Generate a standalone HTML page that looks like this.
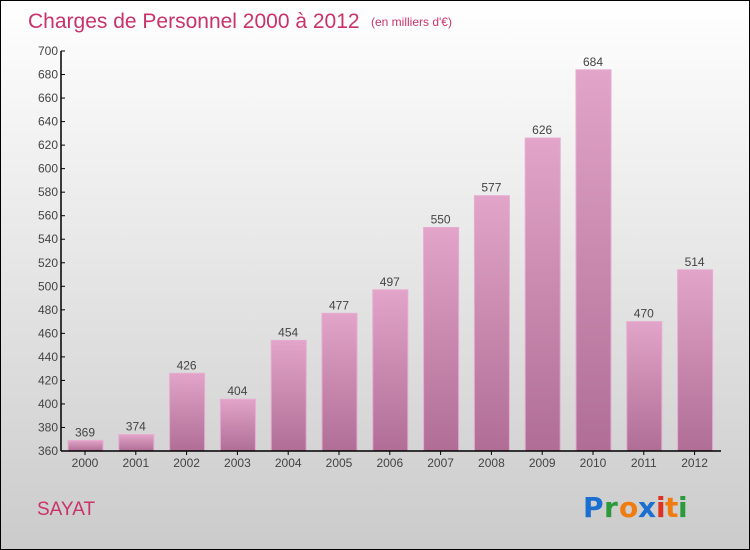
<!DOCTYPE html>
<html><head><meta charset="utf-8"><style>
body{margin:0}
#c{position:relative;width:748px;height:548px;border:1px solid #000;background:linear-gradient(#fff,#cbcbcb);font-family:"Liberation Sans",sans-serif;overflow:hidden}
</style></head><body>
<div id="c">
<svg width="748" height="548" id="s">
<text x="27" y="27" font-size="21" fill="#c8336a">Charges de Personnel 2000 à 2012</text>
<text x="370" y="25" font-size="12" fill="#c8336a">(en milliers d'€)</text>
<text x="36" y="514" font-size="19" fill="#c8336a">SAYAT</text>
<g font-size="28" font-weight="bold" font-family="'DejaVu Sans',sans-serif">
<text x="582" y="516" fill="#1a6fd0">P</text><text x="603" y="516" fill="#2a9a3a">r</text><text x="618" y="516" fill="#f07c10">o</text><text x="637" y="516" fill="#1a6fd0">x</text><text x="655" y="516" fill="#e03020">i</text><text x="664" y="516" fill="#f07c10">t</text><text x="677" y="516" fill="#2a9a3a">i</text>
</g>
<defs><linearGradient id="g" x1="0" y1="0" x2="0" y2="1"><stop offset="0" stop-color="#e2a4c8"/><stop offset="1" stop-color="#b06e96"/></linearGradient></defs>
<g id="plot"></g>
</svg>
</div>
<script>
const categories=["2000","2001","2002","2003","2004","2005","2006","2007","2008","2009","2010","2011","2012"];
const values=[369,374,426,404,454,477,497,550,577,626,684,470,514];
const yTicks=[360,380,400,420,440,460,480,500,520,540,560,580,600,620,640,660,680,700];
const yMin=360,yMax=700,plotTop=50,plotBottom=450,axisX=60;
const yS=v=>plotBottom-(v-yMin)/(yMax-yMin)*(plotBottom-plotTop);
const xS=i=>84+i*50.8;
const ns="http://www.w3.org/2000/svg",plot=document.getElementById('plot');
function mk(t,a){const e=document.createElementNS(ns,t);for(const k in a)e.setAttribute(k,a[k]);plot.appendChild(e);return e;}
yTicks.forEach(t=>{
const l=mk('line',{x1:axisX,x2:axisX+4,y1:yS(t),y2:yS(t),stroke:'#000'});


const tx=mk('text',{x:axisX-3,y:yS(t)+4,'font-size':12,'text-anchor':'end',fill:'#444'});tx.textContent=t;


});
values.forEach((v,i)=>{
const r=mk('rect',{x:xS(i)-17,y:yS(v),width:35,height:plotBottom-yS(v),fill:'url(#g)',stroke:'#e6acd0','stroke-width':1});


const vt=mk('text',{x:xS(i),y:yS(v)-4,'font-size':12,'text-anchor':'middle',fill:'#444'});vt.textContent=v;


const ct=mk('text',{x:xS(i),y:plotBottom+16,'font-size':12,'text-anchor':'middle',fill:'#444'});ct.textContent=categories[i];


const tk=mk('line',{x1:xS(i),x2:xS(i),y1:plotBottom,y2:plotBottom+4,stroke:'#000'});


});
const ya=mk('line',{x1:axisX,x2:axisX,y1:plotTop,y2:plotBottom,stroke:'#000','stroke-width':1.5});


const xa=mk('line',{x1:axisX,x2:720,y1:plotBottom,y2:plotBottom,stroke:'#000','stroke-width':1.5});


</script>
</body></html>
